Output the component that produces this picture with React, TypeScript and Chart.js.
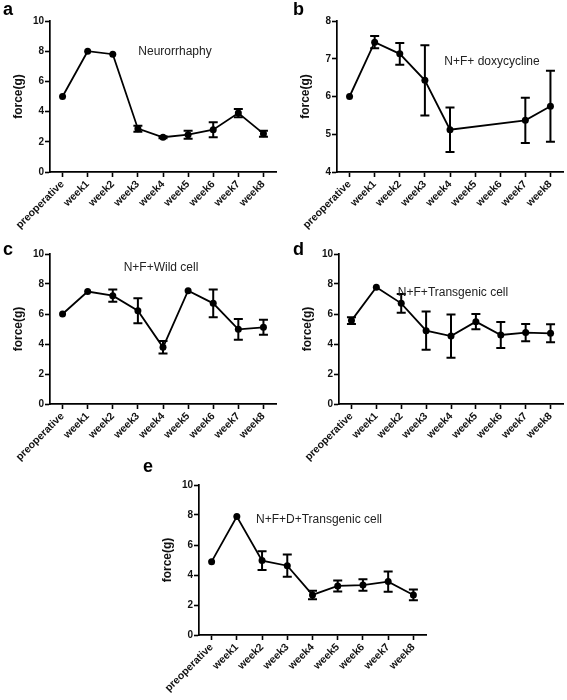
import React, { useEffect, useRef } from "react";
import { Chart, registerables } from "chart.js";

Chart.register(...registerables);

// ---------- data ----------
const categories = ["preoperative", "week1", "week2", "week3", "week4", "week5", "week6", "week7", "week8"];

const yTicks0to10 = [0, 2, 4, 6, 8, 10];
const yTicks4to8 = [4, 5, 6, 7, 8];

const neurorrhaphyMean = [5.0, 8.0, 7.8, 2.87, 2.3, 2.47, 2.8, 3.9, 2.54];
const neurorrhaphyErr = [0, 0, 0, 0.2, 0.06, 0.27, 0.5, 0.27, 0.2];

const doxycyclineMean = [6.0, 7.44, 7.13, 6.43, 5.12, null, null, 5.37, 5.74];
const doxycyclineErr = [0, 0.16, 0.29, 0.93, 0.59, 0, 0, 0.6, 0.94];

const wildCellMean = [6.0, 7.5, 7.22, 6.22, 3.78, 7.55, 6.71, 4.98, 5.11];
const wildCellErr = [0, 0, 0.41, 0.83, 0.42, 0, 0.93, 0.69, 0.5];

const transgenicMean = [5.56, 7.78, 6.71, 4.89, 4.53, 5.49, 4.6, 4.76, 4.71];
const transgenicErr = [0.23, 0, 0.63, 1.28, 1.44, 0.51, 0.87, 0.57, 0.6];

const dTransgenicMean = [4.89, 7.9, 4.96, 4.62, 2.67, 3.27, 3.33, 3.56, 2.67];
const dTransgenicErr = [0, 0, 0.63, 0.74, 0.28, 0.37, 0.38, 0.67, 0.36];

const panelLetters = ["a", "b", "c", "d", "e"];
const panelTitles = ["Neurorrhaphy", "N+F+ doxycycline", "N+F+Wild cell", "N+F+Transgenic cell", "N+F+D+Transgenic cell"];
const yAxisTitle = "force(g)";

// ---------- layout (positions only) ----------
const FONT = "'Liberation Sans', Arial, Helvetica, sans-serif";

type PanelLayout = {
  left: number; top: number; width: number; height: number;
  padTop: number; padRight: number; yWidth: number; plotH: number;
  letterX: number; letterY: number; titleDX: number; titleDY: number;
};

const layouts: PanelLayout[] = [
  { left: 0, top: 0, width: 290, height: 240, padTop: 21, padRight: 14, yWidth: 50, plotH: 151, letterX: 3, letterY: 15, titleDX: 125, titleDY: 31 },
  { left: 287, top: 0, width: 280, height: 240, padTop: 21, padRight: 4, yWidth: 50, plotH: 151, letterX: 6, letterY: 15, titleDX: 155, titleDY: 41 },
  { left: 0, top: 233, width: 290, height: 240, padTop: 21, padRight: 14, yWidth: 50, plotH: 150, letterX: 3, letterY: 22, titleDX: 111, titleDY: 14 },
  { left: 289, top: 233, width: 278, height: 240, padTop: 21, padRight: 1, yWidth: 50, plotH: 150, letterX: 4, letterY: 22, titleDX: 114, titleDY: 39 },
  { left: 139, top: 455, width: 300, height: 245, padTop: 30, padRight: 13, yWidth: 60, plotH: 150, letterX: 4, letterY: 17, titleDX: 120, titleDY: 35 },
];

const errorBarPlugin = {
  id: "errorBars",
  afterDatasetsDraw(chart: any) {
    const ctx = chart.ctx;
    const yScale = chart.scales.y;
    chart.data.datasets.forEach((ds: any, di: number) => {
      const meta = chart.getDatasetMeta(di);
      const errs: number[] = ds.errors || [];
      ctx.save();
      ctx.strokeStyle = "#000";
      ctx.lineWidth = 2;
      meta.data.forEach((pt: any, i: number) => {
        const v = ds.data[i];
        const e = errs[i];
        if (v == null || !e) return;
        const x = pt.x;
        const t = yScale.getPixelForValue(v + e);
        const b = yScale.getPixelForValue(v - e);
        ctx.beginPath();
        ctx.moveTo(x, t); ctx.lineTo(x, b);
        ctx.moveTo(x - 4.5, t); ctx.lineTo(x + 4.5, t);
        ctx.moveTo(x - 4.5, b); ctx.lineTo(x + 4.5, b);
        ctx.stroke();
      });
      ctx.restore();
    });
  },
};

const panelTextPlugin = {
  id: "panelText",
  afterDraw(chart: any, _args: any, opts: any) {
    const ctx = chart.ctx;
    const area = chart.chartArea;
    ctx.save();
    // panel letter
    ctx.fillStyle = "#000";
    ctx.font = `bold 18px ${FONT}`;
    ctx.textAlign = "left";
    ctx.textBaseline = "alphabetic";
    ctx.fillText(opts.letter, opts.letterX, opts.letterY);
    // inner title
    ctx.fillStyle = "#222";
    ctx.font = `12px ${FONT}`;
    ctx.textAlign = "center";
    ctx.textBaseline = "middle";
    ctx.fillText(opts.title, area.left + opts.titleDX, area.top + opts.titleDY);
    // y axis title
    ctx.fillStyle = "#111";
    ctx.font = `bold 12px ${FONT}`;
    ctx.translate(area.left - 31, (area.top + area.bottom) / 2);
    ctx.rotate(-Math.PI / 2);
    ctx.fillText(opts.yTitle, 0, 0);
    ctx.restore();
  },
};

type PanelProps = {
  layout: PanelLayout;
  letter: string;
  title: string;
  means: (number | null)[];
  errors: number[];
  yTicks: number[];
};

function Panel({ layout, letter, title, means, errors, yTicks }: PanelProps) {
  const ref = useRef<HTMLCanvasElement>(null);
  useEffect(() => {
    if (!ref.current) return;
    const xHeight = layout.height - layout.padTop - layout.plotH;
    const chart = new Chart(ref.current, {
      type: "line",
      data: {
        labels: categories,
        datasets: [
          {
            data: means,
            errors,
            borderColor: "#000",
            borderWidth: 1.8,
            backgroundColor: "#000",
            pointBackgroundColor: "#000",
            pointBorderColor: "#000",
            pointRadius: 3.5,
            pointBorderWidth: 0,
            tension: 0,
            spanGaps: true,
            clip: false,
          } as any,
        ],
      },
      options: {
        responsive: false,
        animation: false,
        devicePixelRatio: 1,
        layout: { padding: { left: 0, top: layout.padTop, right: layout.padRight, bottom: 0 } },
        plugins: {
          legend: { display: false },
          tooltip: { enabled: false },
          title: { display: false },
          panelText: {
            letter, title, yTitle: yAxisTitle,
            letterX: layout.letterX, letterY: layout.letterY,
            titleDX: layout.titleDX, titleDY: layout.titleDY,
          },
        } as any,
        scales: {
          x: {
            type: "category",
            offset: true,
            afterFit: (s: any) => { s.height = xHeight; },
            grid: { display: true, drawOnChartArea: false, drawTicks: true, tickLength: 5, tickWidth: 1.6, tickColor: "#000", offset: false },
            border: { display: true, color: "#000", width: 1.7 },
            ticks: {
              autoSkip: false, minRotation: 45, maxRotation: 45, padding: 1,
              color: "#111", font: { family: FONT, size: 10.5, weight: "bold" },
            },
          },
          y: {
            type: "linear",
            min: yTicks[0],
            max: yTicks[yTicks.length - 1],
            afterFit: (s: any) => { s.width = layout.yWidth; },
            afterBuildTicks: (s: any) => { s.ticks = yTicks.map((v) => ({ value: v })); },
            grid: { display: true, drawOnChartArea: false, drawTicks: true, tickLength: 5, tickWidth: 1.6, tickColor: "#000" },
            border: { display: true, color: "#000", width: 1.7 },
            ticks: {
              padding: 1, color: "#111", font: { family: FONT, size: 10, weight: "bold" },
            },
          },
        },
      },
      plugins: [errorBarPlugin, panelTextPlugin],
    });
    return () => chart.destroy();
  }, []);
  return (
    <canvas
      ref={ref}
      width={layout.width}
      height={layout.height}
      style={{ position: "absolute", left: layout.left, top: layout.top, width: layout.width, height: layout.height }}
    />
  );
}

const seriesMeans = [neurorrhaphyMean, doxycyclineMean, wildCellMean, transgenicMean, dTransgenicMean];
const seriesErrors = [neurorrhaphyErr, doxycyclineErr, wildCellErr, transgenicErr, dTransgenicErr];
const seriesTicks = [yTicks0to10, yTicks4to8, yTicks0to10, yTicks0to10, yTicks0to10];

export default function App() {
  return (
    <div style={{ position: "absolute", left: 0, top: 0, width: 567, height: 700, background: "#fff", overflow: "hidden" }}>
      {layouts.map((l, i) => (
        <Panel
          key={i}
          layout={l}
          letter={panelLetters[i]}
          title={panelTitles[i]}
          means={seriesMeans[i]}
          errors={seriesErrors[i]}
          yTicks={seriesTicks[i]}
        />
      ))}
    </div>
  );
}
